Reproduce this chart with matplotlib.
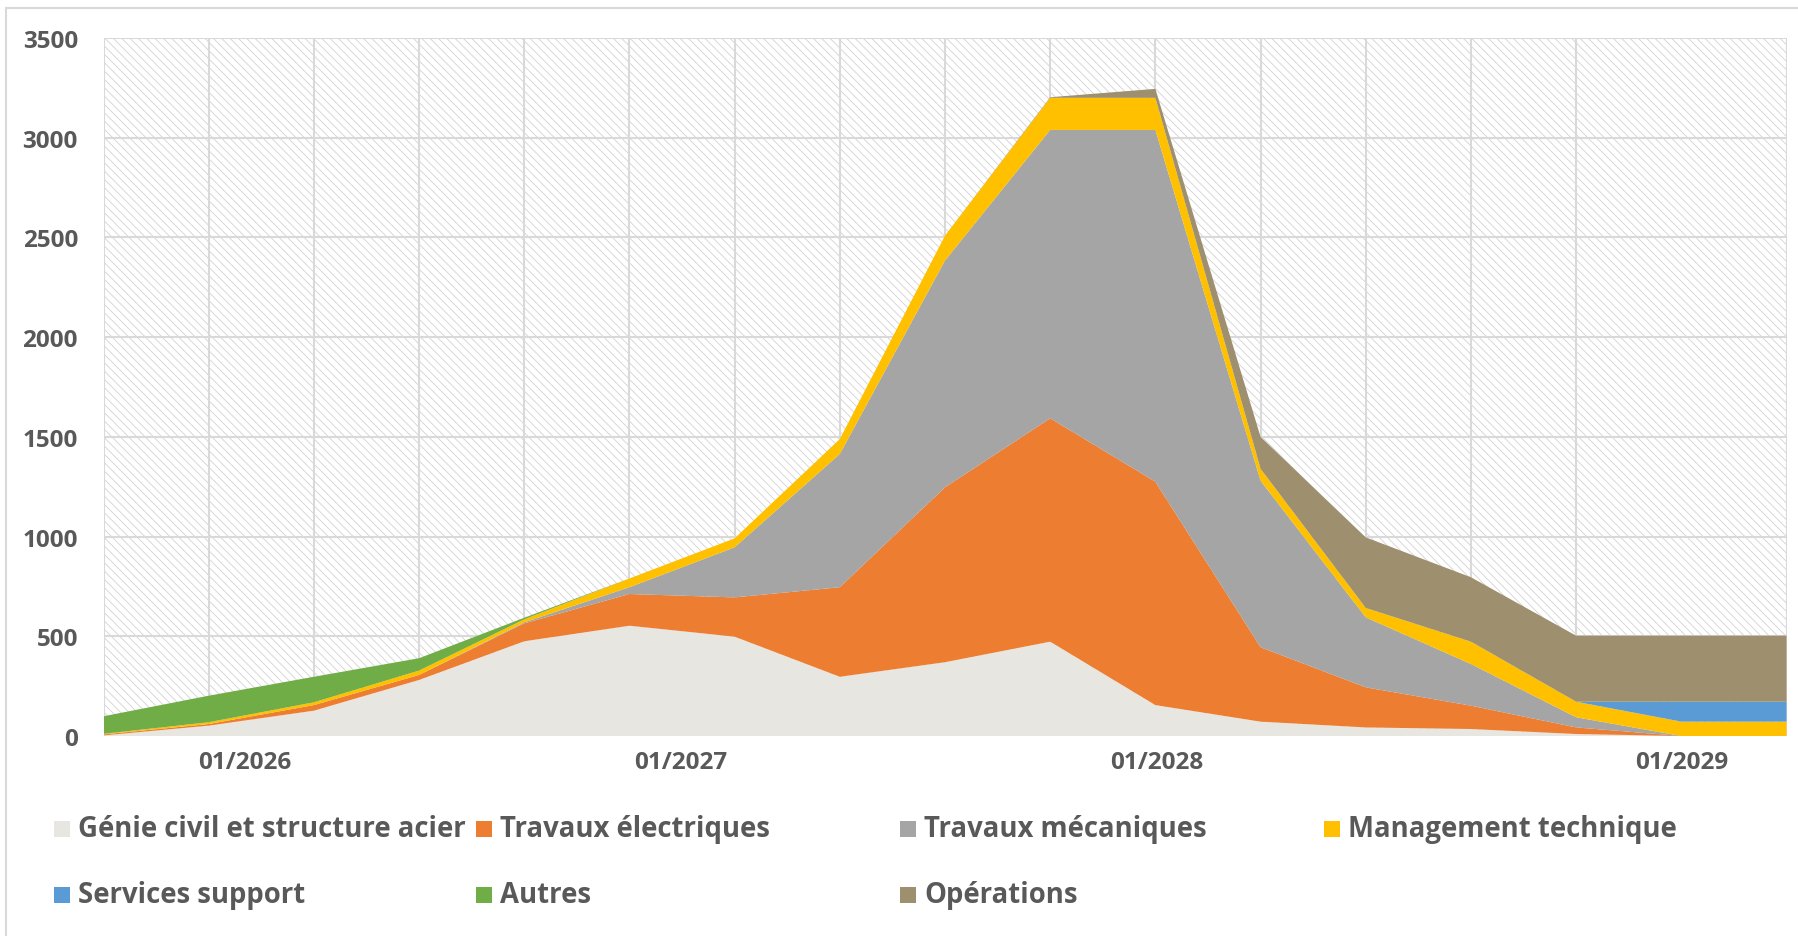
import matplotlib
matplotlib.use('Agg')
import matplotlib.pyplot as plt
from matplotlib.patches import Rectangle
import numpy as np

# Series (one point per period, 17 periods)
series_names = ['Génie civil et structure acier', 'Travaux électriques', 'Travaux mécaniques',
                'Management technique', 'Services support', 'Autres', 'Opérations']
genie = [3, 52, 127, 281, 475, 553, 498, 297, 370, 473, 155, 72, 43, 35, 10, 0, 0]
elec = [5, 8, 28, 25, 90, 159, 197, 449, 877, 1120, 1120, 373, 201, 117, 33, 0, 0]
meca = [0, 0, 0, 0, 5, 34, 251, 668, 1137, 1446, 1764, 835, 351, 209, 51, 0, 0]
mgmt = [3, 9, 14, 22, 15, 44, 45, 75, 125, 161, 161, 60, 47, 112, 78, 72, 72]
services = [0, 0, 0, 0, 0, 0, 0, 0, 0, 0, 0, 0, 0, 0, 0, 100, 100]
autres = [88, 133, 128, 62, 8, 0, 0, 0, 0, 0, 0, 0, 0, 0, 0, 0, 0]
operations = [0, 0, 0, 0, 0, 0, 0, 0, 0, 3, 45, 160, 354, 323, 331, 331, 331]

colors = ['#E8E6E0', '#ED7D31', '#A5A5A5', '#FFC000', '#5B9BD5', '#70AD47', '#9E906E']

date_labels = ['01/2026', '01/2027', '01/2028', '01/2029']
date_pos = [1.34, 5.49, 10.01, 15.0]

x = np.arange(len(genie))
text_col = '#595959'

plt.rcParams['font.family'] = ['Open Sans', 'DejaVu Sans']
plt.rcParams['hatch.linewidth'] = 0.6

fig = plt.figure(figsize=(17.98, 9.37), dpi=100)
ax = fig.add_axes([103.5 / 1798, 1 - 737 / 937, (1786.5 - 103.5) / 1798, (737 - 39) / 937])

# hatched background
ax.add_patch(Rectangle((0, 0), 1, 1, transform=ax.transAxes, facecolor='white',
                       edgecolor='#d2d2d2', hatch='\\\\\\\\', lw=0, zorder=0.1))

ax.stackplot(x, genie, elec, meca, mgmt, services, autres, operations,
             colors=colors, linewidth=0, zorder=1)

ax.set_xlim(0, 16)
ax.set_ylim(0, 3500)
ax.set_yticks(np.arange(0, 3501, 500))
ax.set_xticks(date_pos)
ax.set_xticklabels(date_labels)
ax.set_xticks(x, minor=True)
ax.set_axisbelow(True)
ax.grid(axis='y', which='major', color='#d9d9d9', linewidth=1.5, zorder=0.5)
ax.grid(axis='x', which='minor', color='#d9d9d9', linewidth=1.5, zorder=0.5)
ax.grid(axis='x', which='major', visible=False)
ax.tick_params(which='both', length=0)
ax.tick_params(axis='y', pad=18.4, labelsize=17.5, labelcolor=text_col)
ax.tick_params(axis='x', pad=10, labelsize=17.5, labelcolor=text_col)
for lab in ax.get_xticklabels() + ax.get_yticklabels():
    lab.set_fontweight('bold')
for s in ax.spines.values():
    s.set_visible(False)

# legend, laid out in equal-width columns like the original
col_x = [54, 476, 900, 1324]
row_y = [829.5, 895.5]
for k, name in enumerate(series_names):
    cx = col_x[k % 4]
    cy = row_y[k // 4]
    fig.patches.append(Rectangle((cx / 1798, 1 - (cy + 8) / 937), 16 / 1798, 16 / 937,
                                 transform=fig.transFigure, facecolor=colors[k], lw=0))
    fig.text((cx + 24) / 1798, 1 - cy / 937, name, fontsize=19.8, fontweight='bold',
             color=text_col, va='center', ha='left')

# outer chart border
fig.patches.append(Rectangle((6 / 1798, -0.05), 1.2, 1 - 9 / 937 + 0.05, transform=fig.transFigure,
                             facecolor='none', edgecolor='#d9d9d9', lw=1.5))

fig.savefig('out.png', dpi=100)
